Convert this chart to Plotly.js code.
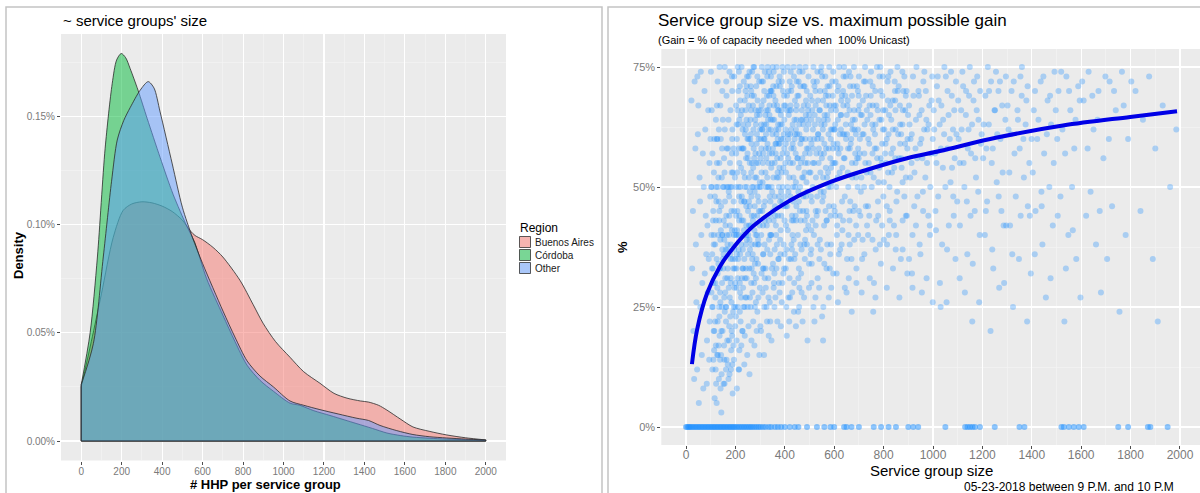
<!DOCTYPE html>
<html>
<head>
<meta charset="utf-8">
<script src="https://cdn.plot.ly/plotly-3.0.1.min.js"></script>
<style>
  html, body { margin: 0; padding: 0; background: #ffffff; }
  #chart { width: 1200px; height: 493px; }
</style>
</head>
<body>
<div id="chart"></div>
<script>
// ---------- Left panel: density of households passed per service group (in %) ----------
const regionNames = ['Buenos Aires', 'Córdoba', 'Other'];
const regionFills = ['rgba(248,118,109,0.5)', 'rgba(0,186,56,0.5)', 'rgba(97,156,255,0.5)'];

const baX = [0, 50, 100, 158, 207, 250, 300, 350, 400, 450, 500, 540, 563, 600, 652, 700, 785, 850, 899, 960, 1032, 1100, 1180, 1250, 1314, 1380, 1420, 1470, 1511, 1580, 1640, 1720, 1807, 1900, 2000];
const baY = [0.025, 0.046, 0.068, 0.094, 0.1065, 0.1095, 0.1105, 0.110, 0.1085, 0.106, 0.102, 0.097, 0.0949, 0.093, 0.0894, 0.085, 0.0742, 0.063, 0.0544, 0.046, 0.0387, 0.032, 0.0267, 0.022, 0.0198, 0.0185, 0.0180, 0.0165, 0.0143, 0.010, 0.0065, 0.0045, 0.0028, 0.0015, 0.0005];

const cbX = [0, 44, 80, 118, 153, 175, 198, 220, 242, 281, 326, 390, 454, 523, 560, 620, 701, 760, 820, 884, 950, 1032, 1081, 1150, 1230, 1300, 1363, 1440, 1511, 1580, 1640, 1720, 1807, 1900, 2000];
const cbY = [0.026, 0.05, 0.085, 0.135, 0.165, 0.176, 0.179, 0.177, 0.172, 0.162, 0.149, 0.131, 0.114, 0.099, 0.092, 0.075, 0.058, 0.046, 0.035, 0.028, 0.023, 0.0175, 0.0165, 0.014, 0.0118, 0.0098, 0.0080, 0.0058, 0.0037, 0.0025, 0.0018, 0.0013, 0.0009, 0.0006, 0.0003];

const otX = [0, 60, 109, 150, 178, 210, 242, 291, 331, 360, 390, 450, 500, 550, 600, 701, 760, 820, 884, 950, 1032, 1100, 1180, 1270, 1363, 1420, 1477, 1560, 1640, 1720, 1807, 1900, 2000];
const otY = [0.026, 0.045, 0.085, 0.12, 0.139, 0.148, 0.154, 0.162, 0.166, 0.163, 0.152, 0.128, 0.108, 0.094, 0.082, 0.06, 0.048, 0.037, 0.030, 0.025, 0.0185, 0.0165, 0.0145, 0.0125, 0.0105, 0.0095, 0.0072, 0.0048, 0.003, 0.002, 0.0014, 0.0009, 0.0005];

const densityTicks = [0, 0.05, 0.10, 0.15];
const sizeTicks = [0, 200, 400, 600, 800, 1000, 1200, 1400, 1600, 1800, 2000];

// ---------- Right panel: service group size vs. maximum gain (%) ----------
const gainPoints = [
  [22,68],[35,72],[48,61],[60,74],[75,70],[90,66],[28,45],[40,38],[55,52],[66,30],[80,44],[95,55],[30,20],[45,12],[58,25],[70,8],[85,18],[92,35],[38,58],[52,5],
  [64,15],[78,62],[88,28],[98,48],[25,33],[42,26],[62,40],[72,50],[84,9],[96,22],[33,10],[50,67],[68,57],[82,36],[94,14],[57,47],[46,73],[76,32],[87,42],[99,60],
  [102,50],[105,33],[108,25],[110,45],[112,20],[115,60],[118,38],[120,12],[122,50],[125,67],[127,29],[130,40],[132,17],[135,55],[137,33],[140,8],[142,46],[145,25],[147,70],[150,50],
  [152,36],[155,14],[157,62],[160,42],[162,22],[165,50],[167,31],[170,58],[172,10],[175,44],[177,27],[180,66],[182,38],[185,50],[187,19],[190,53],[192,33],[195,73],[197,41],[200,25],
  [103,40],[107,57],[111,30],[114,16],[117,48],[121,64],[124,35],[128,22],[131,52],[134,43],[138,28],[141,60],[144,11],[148,40],[151,33],[154,56],[158,47],[161,25],[164,69],[168,37],
  [171,50],[174,18],[178,55],[181,30],[184,45],[188,62],[191,24],[194,40],[198,52],[199,35],[104,66],[109,43],[113,53],[119,27],[126,60],[133,47],[139,39],[146,58],[153,43],[159,31],
  [166,40],[173,49],[179,36],[186,57],[193,47],[196,29],[116,6],[129,15],[143,20],[156,9],[169,13],[183,16],[189,7],[101,74],[136,75],[163,72],[176,74],[106,36],[149,64],[186,41],
  [202,50],[204,33],[206,60],[208,45],[210,25],[212,70],[214,40],[216,55],[218,30],[220,50],[222,65],[224,38],[226,48],[228,20],[230,58],[232,43],[234,72],[236,35],[238,52],[240,27],
  [242,62],[244,46],[246,50],[248,15],[250,56],[252,40],[254,67],[256,33],[258,49],[260,60],[262,25],[264,53],[266,44],[268,74],[270,36],[272,50],[274,58],[276,30],[278,46],[280,64],
  [282,40],[284,55],[286,20],[288,50],[290,68],[292,34],[294,47],[296,57],[298,42],[300,62],[203,57],[207,41],[211,63],[215,48],[219,36],[223,54],[227,66],[231,29],[235,47],[239,61],
  [243,38],[247,73],[251,45],[255,52],[259,37],[263,66],[267,55],[271,43],[275,69],[279,52],[283,31],[287,61],[291,55],[295,38],[299,51],[205,18],[213,12],[221,22],[229,33],[237,25],
  [245,31],[253,21],[261,42],[269,28],[277,17],[285,35],[293,27],[209,75],[225,75],[241,70],[257,74],[273,75],[289,73],[217,44],[233,58],[249,60],[265,48],[281,57],[297,65],[201,40],
  [302,50],[305,40],[308,62],[311,55],[314,33],[317,70],[320,47],[323,58],[326,25],[329,52],[332,66],[335,43],[338,57],[341,36],[344,73],[347,50],[350,61],[353,45],[356,30],[359,55],
  [362,68],[365,40],[368,52],[371,60],[374,35],[377,48],[380,71],[383,56],[386,44],[389,63],[392,50],[395,38],[398,58],[303,66],[306,53],[309,45],[312,72],[315,60],[318,38],[321,65],
  [324,50],[327,42],[330,59],[333,31],[336,69],[339,48],[342,62],[345,40],[348,55],[351,75],[354,52],[357,64],[360,46],[363,57],[366,33],[369,67],[372,44],[375,59],[378,54],[381,39],
  [384,65],[387,53],[390,47],[393,70],[396,61],[399,43],[304,20],[310,28],[316,15],[322,33],[328,22],[334,27],[340,40],[346,18],[352,34],[358,25],[364,42],[370,22],[376,30],[382,36],
  [388,26],[394,32],[307,75],[319,74],[331,75],[343,70],[355,74],[367,75],[379,73],[391,75],[325,56],[349,49],[373,63],
  [402,55],[405,42],[408,66],[411,50],[414,60],[417,35],[420,72],[423,48],[426,58],[429,44],[432,63],[435,52],[438,30],[441,68],[444,57],[447,46],[450,61],[453,40],[456,54],[459,74],
  [462,50],[465,64],[468,37],[471,56],[474,45],[477,67],[480,53],[483,60],[486,41],[489,70],[492,49],[495,58],[498,34],[403,62],[409,57],[415,70],[421,61],[427,38],[433,55],[439,64],
  [445,51],[451,69],[457,47],[463,59],[469,66],[475,52],[481,43],[487,62],[493,55],[499,65],[406,25],[418,22],[430,28],[442,36],[454,24],[466,32],[478,27],[490,38],[412,75],[424,74],
  [436,75],[448,72],[460,75],[472,74],[484,75],[496,73],[400,48],[444,44],[488,51],
  [502,60],[506,48],[510,68],[514,55],[518,40],[522,63],[526,52],[530,72],[534,45],[538,58],[542,66],[546,37],[550,56],[554,62],[558,49],[562,70],[566,54],[570,43],[574,64],[578,58],
  [582,33],[586,60],[590,51],[594,69],[598,46],[504,53],[512,43],[520,71],[528,57],[536,64],[544,53],[552,47],[560,59],[568,67],[576,50],[584,56],[592,62],[600,55],[508,30],[524,27],
  [540,35],[556,25],[572,38],[588,29],[516,75],[532,74],[548,75],[564,73],[580,75],[596,74],[505,36],[585,44],
  [603,62],[608,50],[613,70],[618,57],[623,44],[628,65],[633,54],[638,73],[643,48],[648,60],[653,67],[658,40],[663,58],[668,63],[673,52],[678,71],[683,46],[688,61],[693,56],[698,66],
  [605,55],[615,64],[625,58],[635,61],[645,69],[655,53],[665,47],[675,64],[685,57],[695,50],[610,32],[630,38],[650,28],[670,35],[690,30],[620,75],[640,75],[660,74],[680,75],[700,73],
  [612,42],[662,45],[697,40],
  [704,60],[710,52],[716,68],[722,57],[728,46],[734,64],[740,55],[746,72],[752,50],[758,62],[764,58],[770,43],[776,66],[782,54],[788,70],[794,59],[799,48],[707,65],[719,61],[731,53],
  [743,67],[755,57],[767,63],[779,51],[791,64],[713,35],[737,40],[761,30],[785,38],[725,75],[749,74],[773,75],[797,73],[706,44],[758,24],
  [803,62],[810,55],[817,68],[824,50],[831,64],[838,58],[845,72],[852,47],[859,61],[866,67],[873,54],[880,70],[887,59],[894,44],[899,65],[806,57],[820,61],[834,53],[848,66],[862,56],
  [876,63],[890,52],[814,38],[842,42],[870,35],[828,74],[856,75],[884,73],[813,46],[896,32],
  [905,63],[913,55],[921,69],[929,58],[937,48],[945,65],[953,60],[961,72],[969,52],[977,62],[985,67],[993,57],[909,60],[925,53],[941,70],[957,56],[973,64],[989,50],[917,40],[949,36],
  [981,44],[933,75],[965,74],[997,73],[915,32],[955,28],
  [1005,62],[1014,55],[1023,68],[1032,58],[1041,64],[1050,50],[1059,70],[1068,60],[1077,54],[1086,66],[1095,61],[1010,45],[1037,38],[1064,42],[1091,35],[1019,73],[1046,75],[1073,74],[1028,30],[1082,48],
  [1055,26],[1104,60],[1114,66],[1124,55],[1134,70],[1144,62],[1154,57],[1164,68],[1174,52],[1184,64],[1194,59],[1109,42],[1139,36],[1169,45],[1119,74],[1149,75],[1179,73],[1129,28],[1159,22],[1189,40],
  [1205,63],[1216,58],[1227,70],[1238,55],[1249,66],[1260,61],[1271,72],[1282,53],[1293,64],[1210,40],[1244,33],[1277,45],[1222,75],[1255,74],[1288,30],[1233,20],[1266,48],
  [1306,62],[1318,70],[1330,57],[1342,66],[1354,73],[1366,60],[1378,68],[1390,55],[1312,42],[1348,35],[1384,46],[1324,25],[1360,75],[1396,32],
  [1408,66],[1422,60],[1436,72],[1450,57],[1464,68],[1478,63],[1492,74],[1415,45],[1443,38],[1471,50],[1457,27],[1485,42],
  [1508,70],[1524,62],[1540,73],[1556,66],[1572,58],[1588,71],[1516,48],[1548,40],[1580,35],[1532,22],
  [1610,68],[1630,74],[1650,62],[1670,70],[1690,56],[1620,44],[1660,38],[1680,28],
  [1715,72],[1740,66],[1765,74],[1790,60],[1725,46],[1755,24],[1780,40],
  [1820,70],[1850,64],[1875,73],[1900,58],[1930,67],[1960,50],[1840,45],[1890,35],[1985,62],[1910,22],
  // frequent ratios (1/2, 1/3, 1/4, 2/5, 1/5, 2/3, 3/5) show up as faint horizontal rows
  [104,50],[129,50],[153,50],[179,50],[213,50],[239,50],[268,50],[297,50],[331,50],[376,50],[433,50],
  [109,33],[137,33],[169,33],[197,33],[231,33],[266,33],[311,33],
  [106,25],[134,25],[163,25],[194,25],[233,25],[279,25],
  [113,40],[146,40],[174,40],[206,40],[244,40],[287,40],[344,40],
  [115,20],[148,20],[185,20],[229,20],
  [139,67],[203,67],[271,67],[338,67],
  [126,60],[187,60],[253,60],[318,60],
  [111,14],[138,14],[164,14],[192,17],[121,17],[154,17],[182,12],[215,12],[133,10],[176,11],[124,5],[143,3],[206,8],
  [123,47],[133,62],[147,37],[156,53],[163,44],[172,64],[181,35],[187,70],[193,58],[207,53],[213,37],[219,68],[226,43],[232,63],[237,47],[243,56],[248,69],[255,42],[261,64],[266,38],
  [273,62],[278,49],[284,71],[289,44],[294,60],[301,56],[306,67],[312,42],[317,63],[322,53],[328,69],[334,58],[339,44],[343,64],[349,57],[354,69],[359,48],[364,62],[369,56],[375,72],
  [381,47],[386,66],[391,57],[397,67],[404,59],[410,46],[416,65],[422,55],[428,71],[434,47],[440,60],[446,66],[452,56],[458,63],[464,43],[470,60],[476,71],[482,57],[488,45],[494,66],
  [501,57],[507,64],[513,50],[519,60],[525,67],[531,48],[537,55],[543,70],[549,60],[555,52],[561,65],[567,58],[573,71],[579,46],[587,66],[593,55],[599,62],
  [606,67],[614,52],[622,61],[631,69],[639,56],[647,63],[656,58],[664,71],[672,55],[681,66],[689,52],[696,62],
  [703,57],[712,65],[721,50],[729,69],[738,60],[747,53],[756,67],[765,61],[774,56],[783,73],[792,55],[798,66],
  [808,59],[818,53],[827,67],[837,62],[847,56],[857,70],[867,59],[877,51],[888,66],[897,60],
  [125,55],[145,52],[165,58],[185,53],[205,63],[225,58],[245,64],[265,59],[285,52],[305,58],[325,63],[345,54],[365,59],[385,60],[405,53],[425,66],[445,62],[465,55],[485,65],[515,58],
  [535,61],[555,68],[575,53],[595,58],
  [135,45],[155,39],[175,48],[195,45],[215,43],[235,41],[255,47],[275,44],[295,45],[315,46],[335,50],[355,43],[375,52],[395,46],[415,49],[435,43],[455,49],[475,48],[495,42],[525,45],
  [545,49],[565,45],[585,50],
  [119,30],[139,26],[159,28],[179,23],[199,30],[219,28],[239,31],[259,27],[279,34],[299,29],[319,31],[339,26],[359,37],[379,28],[399,36],[419,31],[439,35],[459,29],[479,38],[509,34],
  [539,29],[569,33],[619,36],[659,31],
  [128,72],[157,75],[186,73],[214,74],[246,71],[276,75],[306,72],[336,74],[366,71],[396,74],[426,70],[456,72],[486,68],[516,72],[546,74],[576,69],[606,72],[636,70],[666,73],[696,70],
  [726,72],[756,71],[786,75],[816,72],[846,70],[876,74],
  // dense core above the trend
  [203,44],[209,66],[214,58],[218,71],[224,47],[229,62],[233,53],[238,68],[244,42],[249,57],[253,73],[258,46],[263,61],[267,69],[272,54],[277,41],[281,66],[286,59],[291,48],[296,72],
  [301,45],[305,63],[310,51],[314,68],[319,43],[324,61],[329,73],[333,55],[338,65],[342,47],[347,70],[352,58],[356,67],[361,44],[366,61],[371,53],[375,66],[380,59],[385,49],[389,72],
  [394,54],[398,64],[404,46],[409,69],[413,61],[418,52],[423,67],[428,43],[432,59],[437,73],[442,50],[447,64],[451,56],[456,69],[461,45],[466,60],[470,52],[475,63],[480,71],[485,48],
  [489,58],[494,67],[499,53],[503,69],[509,47],[514,62],[519,55],[524,70],[529,44],[535,61],[540,66],[545,57],[551,73],[556,48],[561,63],[566,69],[571,52],[577,61],[582,67],[587,54],
  [592,72],[597,59],[602,45],[607,66],[611,58],[617,71],[622,53],[627,62],[632,47],[637,67],[642,56],[647,73],[652,61],[657,50],[662,66],[667,59],[672,69],[677,45],[682,62],[687,55],
  [692,71],[697,58],[702,67],[708,49],[714,61],[720,72],[726,55],[732,66],[737,46],[742,59],[748,69],[754,63],[760,52],[766,70],[771,58],[777,47],[783,64],[789,56],[795,69],[801,51],
  [807,66],[813,60],[819,73],[825,45],[831,57],[837,68],[843,54],[849,62],[855,49],[861,71],[867,63],[872,56],[878,66],[884,48],[890,69],[896,58],
  [206,36],[226,31],[246,39],[268,35],[291,38],[313,36],[336,39],[358,32],[383,41],[407,37],[431,40],[457,33],[482,39],[507,41],[533,38],[559,42],[584,36],[611,40],[636,43],[663,38],
  [689,42],[715,39],[742,44],[768,37],[794,42],[821,40],[849,37],[877,43],
  [216,64],[241,66],[262,71],[287,65],[309,62],[332,64],[353,71],[374,62],[397,69],[419,66],[441,61],[463,71],[487,64],[511,66],[534,68],[558,64],[581,71],[604,63],[628,68],[651,65],
  [674,62],[699,69],[723,63],[747,65],[771,67],[797,62],[822,65],[847,68],[871,61],[893,70],
  [252,63],[258,55],[264,70],[276,56],[283,63],[294,66],[303,60],[312,57],[326,66],[334,62],[341,70],[351,64],[362,59],[371,66],[382,63],[393,60],[402,67],[414,56],[425,62],[436,58],
  [448,67],[459,61],[471,64],[483,55],[496,63],[508,59],[521,65],[532,60],[547,63],[559,57],[572,65],[586,62],[599,67],[613,59],[626,65],[641,61],[655,68],[669,60],[684,64],[699,56],
  // below the trend, mid-sized groups
  [404,33],[412,41],[421,27],[429,37],[437,24],[446,43],[455,31],[463,38],[472,22],[481,35],[490,44],[498,29],[507,37],[516,25],[525,42],[533,31],[542,39],[551,23],[560,34],[569,43],
  [578,27],[587,38],[596,32],[605,44],[615,26],[624,37],[633,41],[643,29],[652,35],[662,43],[671,24],[681,39],[690,33],[700,45],[711,28],[722,36],[733,42],[744,31],[755,39],[767,27],
  [778,44],[789,34],[801,39],[813,29],[825,43],[838,33],[851,40],[864,27],[877,37],[890,44],[903,35],[917,29],[931,42],[946,38],[960,45],[974,31],[988,40],[999,26],
  // larger service groups
  [903,67],[908,52],[914,61],[919,73],[924,46],[931,64],[936,56],[943,69],[948,59],[954,66],[959,49],[964,62],[971,70],[976,55],[982,63],[987,42],[994,68],[999,60],
  [1003,66],[1008,57],[1016,71],[1021,48],[1027,63],[1034,67],[1040,54],[1045,61],[1052,73],[1058,58],[1063,65],[1071,51],[1076,69],[1081,62],[1088,56],[1093,72],[1098,47],
  [1102,68],[1108,55],[1116,62],[1122,71],[1127,50],[1133,65],[1141,58],[1146,69],[1152,44],[1158,63],[1166,72],[1171,56],[1177,66],[1183,49],[1191,70],[1197,61],
  [1203,56],[1212,69],[1219,47],[1226,63],[1235,72],[1242,58],[1251,66],[1258,51],[1265,70],[1273,60],[1280,67],[1286,42],[1295,73],
  [1302,67],[1309,53],[1316,61],[1327,72],[1335,48],[1344,64],[1351,58],[1359,69],[1368,52],[1375,63],[1383,71],[1392,44],[1399,60],
  [1404,53],[1413,70],[1427,64],[1439,49],[1447,73],[1461,61],[1474,69],[1489,55],[1497,66],
  [1503,60],[1519,74],[1535,57],[1551,70],[1563,50],[1577,64],[1594,68],
  [1604,72],[1626,58],[1645,69],[1666,64],[1698,73],[1712,60],[1733,70],[1772,67],[1803,72],
  [1012,41],[1031,25],[1057,37],[1084,44],[1108,31],[1137,47],[1161,34],[1187,26],[1214,45],[1240,37],[1268,29],[1296,42],[1321,36],[1355,44],[1381,22],[1412,36],[1440,46],[1476,31],[1505,44],[1538,33],
  [1566,41],[1597,27],[1638,49],[1675,45],[1705,35],
  // small groups with low gain
  [103,28],[107,12],[112,38],[118,22],[121,43],[126,15],[131,34],[136,19],[141,41],[146,30],[152,9],[157,24],[161,37],[167,18],[173,29],[178,42],[184,26],[189,35],[194,14],[199,21],
  [205,29],[211,35],[218,24],[224,17],[232,40],[238,19],[245,27],[251,36],[257,11],[264,30],[272,22],[280,38],[289,24],[297,15],[306,32],[317,25],[329,37],[341,22],[355,29],[368,38],
  [384,21],[397,33],[415,27],[436,39],[458,25],
  [122,9],[128,32],[135,23],[142,15],[149,35],[155,27],[162,12],[168,38],[175,21],[181,31],[188,13],[195,37],[202,23],[209,31],[216,16],[223,27],[230,37],[236,13],[243,33],[250,25],
  [257,39],[265,18],[274,32],[283,26],[292,39],[301,21],[312,36],[323,29],[335,19],[348,33],[362,27],[375,35],[390,30],[408,19],[425,35],[445,21],[468,28],[492,18],[520,22],[555,18]
];

// service groups with no gain at all (0 %)
const zeroGainX = [0,5,10,15,20,26,32,38,44,50,56,62,68,74,80,86,92,98,104,110,116,122,128,134,140,146,152,158,164,170,176,182,188,194,200,207,214,221,228,235,242,249,256,263,270,278,286,294,302,312,322,335,345,360,372,385,400,420,440,455,490,530,560,585,600,640,650,670,700,760,790,820,850,900,920,940,1050,1130,1140,1150,1160,1170,1190,1250,1350,1370,1520,1530,1550,1570,1590,1610,1750,1790,1870,1880,1950];

// smoothed trend of gain vs. size
const fitX = [24, 45, 85, 138, 186, 271, 421, 583, 733, 895, 1028, 1259, 1526, 1798, 1988];
const fitY = [13.1, 20.3, 27.8, 33.5, 37.0, 41.8, 47.2, 51.0, 53.6, 56.0, 57.5, 60.3, 62.8, 64.6, 65.8];

const gainTicks = [0, 25, 50, 75];

// ---------- traces ----------
const traces = [];
const regions = [[baX, baY], [cbX, cbY], [otX, otY]];
regions.forEach(([xs, ys], i) => {
  traces.push({
    x: xs, y: ys, xaxis: 'x', yaxis: 'y', type: 'scatter', mode: 'lines',
    name: regionNames[i], showlegend: false,
    fill: 'tozeroy', fillcolor: regionFills[i],
    line: { color: '#2b2b2b', width: 0.8, shape: 'spline', smoothing: 0.8 },
    hoverinfo: 'skip'
  });
  // left edge and baseline of each density outline
  const last = xs.length - 1;
  traces.push({
    x: [xs[0], xs[0], xs[last], xs[last]], y: [ys[0], 0, 0, ys[last]],
    xaxis: 'x', yaxis: 'y', type: 'scatter', mode: 'lines',
    line: { color: '#2b2b2b', width: 0.8 }, showlegend: false,
    hoverinfo: 'skip'
  });
});

traces.push({
  x: gainPoints.map(p => p[0]), y: gainPoints.map(p => p[1]),
  xaxis: 'x2', yaxis: 'y2', type: 'scatter', mode: 'markers',
  marker: { color: '#1E90FF', size: 6, opacity: 0.32, line: { width: 0 } },
  showlegend: false, hoverinfo: 'skip'
});
traces.push({
  x: zeroGainX, y: zeroGainX.map(() => 0),
  xaxis: 'x2', yaxis: 'y2', type: 'scatter', mode: 'markers',
  marker: { color: '#1E90FF', size: 6, opacity: 0.5, line: { width: 0 } },
  showlegend: false, hoverinfo: 'skip'
});
traces.push({
  x: fitX, y: fitY, xaxis: 'x2', yaxis: 'y2', type: 'scatter', mode: 'lines',
  line: { color: '#0000E6', width: 4, shape: 'spline', smoothing: 1 },
  showlegend: false, hoverinfo: 'skip'
});

// ---------- layout ----------
const W = 1200, H = 493;
const px = v => v / W;
const py = v => 1 - v / H;

const tickFont = { family: 'Liberation Sans, Arial, sans-serif', size: 10, color: '#7a7a7a' };
const baseAxis = {
  showgrid: true, gridcolor: '#ffffff', gridwidth: 1.1,
  zeroline: false, showline: false,
  ticks: 'outside', ticklen: 3, tickcolor: '#4d4d4d', tickwidth: 1,
  fixedrange: true
};
const minorX = { tickvals: [100, 300, 500, 700, 900, 1100, 1300, 1500, 1700, 1900], showgrid: true, gridcolor: '#f5f5f5', gridwidth: 0.6, ticks: '' };

// legend keys drawn as boxes beside the density panel
const legendShapes = [];
const legendLabels = [];
regionNames.forEach((name, i) => {
  const top = 236 + i * 13;
  legendShapes.push({ type: 'rect', xref: 'paper', yref: 'paper', x0: px(519), x1: px(531), y0: py(top + 12), y1: py(top),
    line: { width: 0 }, fillcolor: '#F2F2F2' });
  legendShapes.push({ type: 'rect', xref: 'paper', yref: 'paper', x0: px(519.5), x1: px(530.5), y0: py(top + 11.5), y1: py(top + 0.5),
    line: { color: '#333333', width: 0.8 }, fillcolor: regionFills[i] });
  legendLabels.push({ text: name, xref: 'paper', yref: 'paper', x: px(533), y: py(top + 6.5),
    xanchor: 'left', yanchor: 'middle', showarrow: false, font: { size: 10, color: '#1a1a1a' } });
});

const layout = {
  width: W, height: H,
  margin: { l: 0, r: 0, t: 0, b: 0 },
  paper_bgcolor: '#ffffff',
  plot_bgcolor: '#EBEBEB',
  font: { family: 'Liberation Sans, Arial, sans-serif', color: '#000000' },
  showlegend: false,
  xaxis: Object.assign({}, baseAxis, {
    domain: [px(61), px(506)], range: [-100, 2100],
    tickvals: sizeTicks, ticktext: sizeTicks.map(String), tickfont: tickFont,
    ticklabelstandoff: -2, minor: minorX, anchor: 'y'
  }),
  yaxis: Object.assign({}, baseAxis, {
    domain: [py(460.5), py(34)], range: [-0.009, 0.188],
    tickvals: densityTicks, ticktext: densityTicks.map(v => v.toFixed(2) + '%'), tickfont: tickFont,
    minor: { tickvals: [0.025, 0.075, 0.125, 0.175], showgrid: true, gridcolor: '#f5f5f5', gridwidth: 0.6, ticks: '' },
    anchor: 'x'
  }),
  xaxis2: Object.assign({}, baseAxis, {
    domain: [px(661.3), 1], range: [-100, 2081],
    tickvals: sizeTicks, ticktext: sizeTicks.map(String),
    tickfont: Object.assign({}, tickFont, { size: 12 }),
    ticklabelstandoff: -4, minor: minorX, anchor: 'y2'
  }),
  yaxis2: Object.assign({}, baseAxis, {
    domain: [py(445), py(49)], range: [-3.75, 78.75],
    tickvals: gainTicks, ticktext: gainTicks.map(v => v + '%'),
    tickfont: Object.assign({}, tickFont, { size: 11 }),
    minor: { tickvals: [12.5, 37.5, 62.5], showgrid: true, gridcolor: '#f5f5f5', gridwidth: 0.6, ticks: '' },
    anchor: 'x2'
  }),
  shapes: [
    { type: 'rect', xref: 'paper', yref: 'paper', x0: px(6), x1: px(602), y0: py(500), y1: py(7),
      line: { color: '#c4c4c4', width: 1.5 }, fillcolor: 'rgba(0,0,0,0)', layer: 'above' },
    { type: 'rect', xref: 'paper', yref: 'paper', x0: px(608), x1: px(1206), y0: py(500), y1: py(7),
      line: { color: '#c4c4c4', width: 1.5 }, fillcolor: 'rgba(0,0,0,0)', layer: 'above' }
  ].concat(legendShapes),
  annotations: [
    { text: "~ service groups' size", xref: 'paper', yref: 'paper', x: px(61), y: py(20),
      xanchor: 'left', yanchor: 'middle', showarrow: false, font: { size: 15, color: '#000' } },
    { text: '<b>Density</b>', xref: 'paper', yref: 'paper', x: px(18), y: py(255), textangle: -90,
      xanchor: 'center', yanchor: 'middle', showarrow: false, font: { size: 13, color: '#000' } },
    { text: '<b># HHP per service group</b>', xref: 'paper', yref: 'paper', x: px(265), y: py(484),
      xanchor: 'center', yanchor: 'middle', showarrow: false, font: { size: 13, color: '#000' } },
    { text: 'Region', xref: 'paper', yref: 'paper', x: px(518), y: py(228),
      xanchor: 'left', yanchor: 'middle', showarrow: false, font: { size: 12, color: '#000' } },
    { text: 'Service group size vs. maximum possible gain', xref: 'paper', yref: 'paper', x: px(656), y: py(20),
      xanchor: 'left', yanchor: 'middle', showarrow: false, font: { size: 17, color: '#000' } },
    { text: '(Gain = % of capacity needed when  100% Unicast)', xref: 'paper', yref: 'paper', x: px(656), y: py(40),
      xanchor: 'left', yanchor: 'middle', showarrow: false, font: { size: 11, color: '#000' } },
    { text: '<b>%</b>', xref: 'paper', yref: 'paper', x: px(622), y: py(247), textangle: -90,
      xanchor: 'center', yanchor: 'middle', showarrow: false, font: { size: 13, color: '#000' } },
    { text: 'Service group size', xref: 'paper', yref: 'paper', x: px(932), y: py(470),
      xanchor: 'center', yanchor: 'middle', showarrow: false, font: { size: 15, color: '#000' } },
    { text: '05-23-2018 between 9 P.M. and 10 P.M', xref: 'paper', yref: 'paper', x: px(962), y: py(487),
      xanchor: 'left', yanchor: 'middle', showarrow: false, font: { size: 12, color: '#000' } }
  ].concat(legendLabels)
};

Plotly.newPlot('chart', traces, layout, { displayModeBar: false, staticPlot: true });
</script>
</body>
</html>
